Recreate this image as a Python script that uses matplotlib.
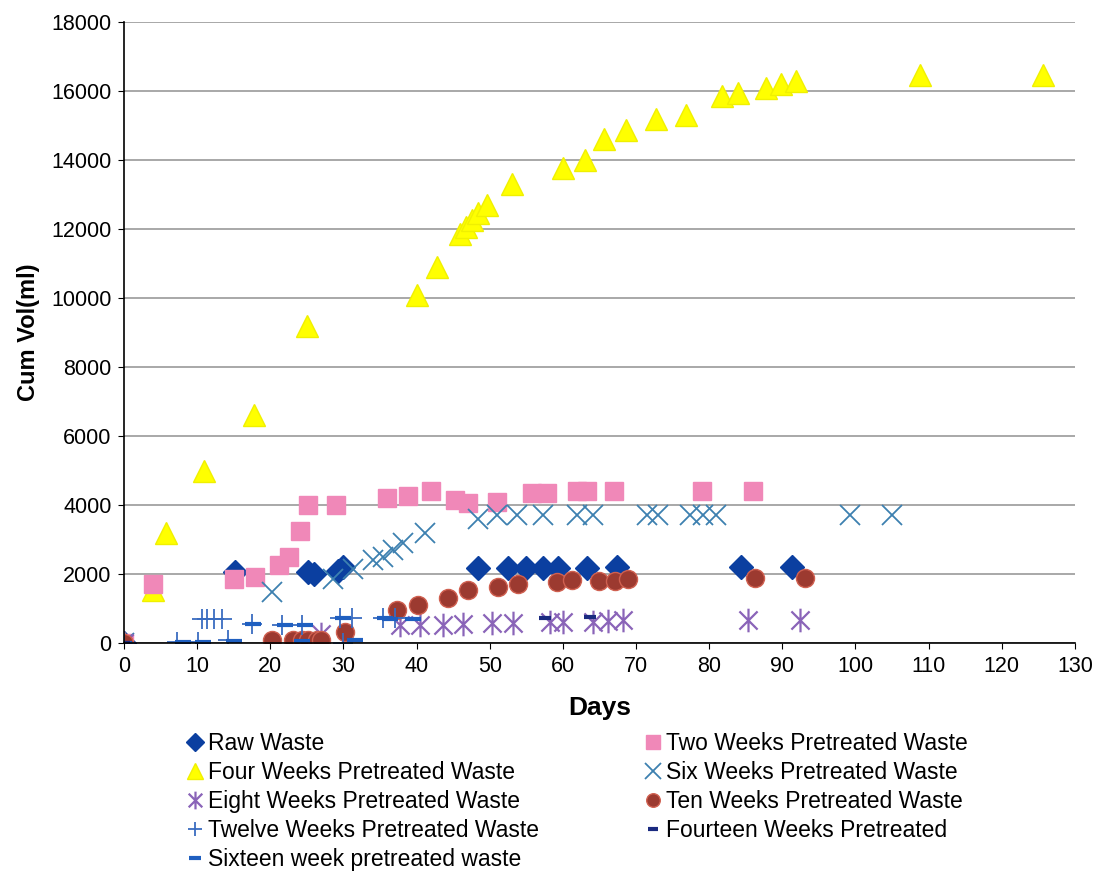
import numpy as np
import matplotlib.pyplot as plt
from matplotlib.path import Path

plt.rcParams["font.family"] = ["Liberation Sans", "DejaVu Sans"]

# cumulative biogas volume (ml) against time (days)
raw_days = [0, 15.2, 25.2, 26.0, 29.3, 30.0, 48.4, 52.5, 55.0, 57.3, 59.3, 63.3, 67.4, 84.4, 91.3]
raw_vol = [0, 2050, 2050, 2000, 2100, 2200, 2180, 2180, 2180, 2180, 2180, 2180, 2200, 2200, 2200]

two_days = [0, 4.0, 15.0, 17.9, 21.2, 22.6, 24.0, 25.2, 29.0, 36.0, 38.8, 42.0, 45.2, 47.0,
            51.0, 55.8, 57.8, 62.0, 63.3, 67.0, 79.0, 86.0]
two_vol = [0, 1700, 1850, 1900, 2250, 2500, 3250, 4000, 4000, 4200, 4250, 4400, 4150, 4050,
           4080, 4350, 4350, 4400, 4400, 4400, 4400, 4400]

four_days = [0, 4.0, 5.7, 11.0, 17.8, 25.0, 40.0, 42.8, 46.0, 46.8, 47.6, 48.4, 49.6, 53.0,
             60.0, 63.0, 65.6, 68.6, 72.7, 76.8, 81.8, 84.0, 87.8, 89.8, 91.9, 108.8, 125.6]
four_vol = [0, 1550, 3200, 5000, 6600, 9200, 10100, 10900, 11850, 12050, 12250, 12450, 12700, 13300,
            13770, 14000, 14600, 14870, 15200, 15300, 15850, 15950, 16100, 16200, 16300, 16450, 16450]

six_days = [0, 20.2, 28.6, 31.3, 34.0, 35.4, 36.8, 38.1, 41.1, 48.4, 51.0, 53.7, 57.3, 62.0,
            64.1, 71.5, 73.0, 77.4, 79.2, 81.0, 99.2, 105.0]
six_vol = [0, 1480, 1850, 2150, 2400, 2500, 2700, 2900, 3200, 3600, 3700, 3700, 3700, 3700,
           3700, 3700, 3700, 3700, 3700, 3700, 3700, 3700]

eight_days = [0, 27.0, 37.7, 40.5, 43.6, 46.3, 50.3, 53.2, 58.2, 60.0, 64.1, 66.2, 68.2, 85.3, 92.4]
eight_vol = [0, 250, 520, 520, 520, 560, 580, 580, 610, 610, 620, 640, 670, 670, 670]

ten_days = [0, 20.2, 23.1, 24.3, 25.2, 26.4, 27.0, 30.2, 37.3, 40.2, 44.3, 47.0, 51.1, 53.9,
            59.2, 61.2, 65.0, 67.1, 68.9, 86.3, 93.1]
ten_vol = [0, 90, 90, 90, 90, 90, 90, 320, 960, 1100, 1300, 1540, 1620, 1700,
           1770, 1830, 1800, 1800, 1850, 1880, 1880]

twelve_days = [0, 7.2, 10.1, 10.6, 11.4, 12.3, 13.4, 14.2, 17.5, 21.6, 24.3, 29.5, 30.0, 31.2, 35.4, 37.0]
twelve_vol = [0, 30, 30, 700, 700, 700, 700, 90, 540, 520, 520, 720, 0, 720, 720, 720]

fourteen_days = [0, 57.5, 63.7]
fourteen_vol = [0, 720, 750]

sixteen_days = [0, 8.0, 10.8, 15.0, 17.6, 22.0, 24.3, 24.7, 30.0, 31.6, 35.7, 36.4, 39.5]
sixteen_vol = [0, 30, 30, 60, 540, 520, 60, 520, 720, 100, 720, 700, 700]

x_ticks = np.arange(0, 131, 10)
y_ticks = np.arange(0, 18001, 2000)

# Excel style asterisk marker
star = Path([(-1, -1), (1, 1), (-1, 1), (1, -1), (0, -1.3), (0, 1.3)],
            [Path.MOVETO, Path.LINETO, Path.MOVETO, Path.LINETO, Path.MOVETO, Path.LINETO])

fig = plt.figure(figsize=(11.07, 8.74), dpi=100)
ax = fig.add_axes([0.112, 0.2643, 0.859, 0.7105])

ax.yaxis.grid(True, color="#a8a8a8", linewidth=1.4)
ax.set_axisbelow(True)

h_raw, = ax.plot(raw_days, raw_vol, ls="none", marker="D", ms=12, color="#0b3fa0", mec="#0b3fa0")
h_four, = ax.plot(four_days, four_vol, ls="none", marker="^", ms=16, color="#ffff00", mec="#f0f000")
h_two, = ax.plot(two_days, two_vol, ls="none", marker="s", ms=13, color="#f088b8", mec="#f088b8")
h_six, = ax.plot(six_days, six_vol, ls="none", marker="x", ms=15, mew=1.3, color="#3d80b0")
h_eight, = ax.plot(eight_days, eight_vol, ls="none", marker=star, ms=17, mew=1.6,
                   color="#8a64b8", mfc="none")
h_ten, = ax.plot(ten_days, ten_vol, ls="none", marker="o", ms=13, color="#9c3a30", mec="#d06050", mew=1)
h_twelve, = ax.plot(twelve_days, twelve_vol, ls="none", marker="+", ms=14, mew=1.3, color="#3a6cc0")
h_sixteen, = ax.plot(sixteen_days, sixteen_vol, ls="none", marker="_", ms=12, mew=3, color="#1f5fc0")
h_fourteen, = ax.plot(fourteen_days, fourteen_vol, ls="none", marker="_", ms=9, mew=3, color="#1a2a80")

ax.set_xlim(0, 130)
ax.set_ylim(0, 18000)
ax.set_xticks(x_ticks)
ax.set_yticks(y_ticks)
ax.tick_params(labelsize=15.5, length=4, direction="out", pad=5)

for side in ["top", "right"]:
    ax.spines[side].set_visible(False)
ax.spines["left"].set_linewidth(1.2)
ax.spines["bottom"].set_linewidth(1.2)

ax.set_xlabel("Days", fontsize=19, fontweight="bold", labelpad=14)
ax.set_ylabel("Cum Vol(ml)", fontsize=17, fontweight="bold", labelpad=8)

left_handles = [h_raw, h_four, h_eight, h_twelve, h_sixteen]
left_labels = ["Raw Waste", "Four Weeks Pretreated Waste", "Eight Weeks Pretreated Waste",
               "Twelve Weeks Pretreated Waste", "Sixteen week pretreated waste"]
right_handles = [h_two, h_six, h_ten, h_fourteen]
right_labels = ["Two Weeks Pretreated Waste", "Six Weeks Pretreated Waste",
                "Ten Weeks Pretreated Waste", "Fourteen Weeks Pretreated"]

leg_kw = dict(frameon=False, fontsize=16.5, handlelength=0.7, handletextpad=0.2,
              labelspacing=0.26, markerscale=0.75, borderpad=0)
fig.legend(left_handles, left_labels, loc="upper left",
           bbox_to_anchor=(176 / 1107, 1 - 721 / 874), **leg_kw)
fig.legend(right_handles, right_labels, loc="upper left",
           bbox_to_anchor=(634 / 1107, 1 - 721 / 874), **leg_kw)

fig.savefig("out.png", dpi=100)
